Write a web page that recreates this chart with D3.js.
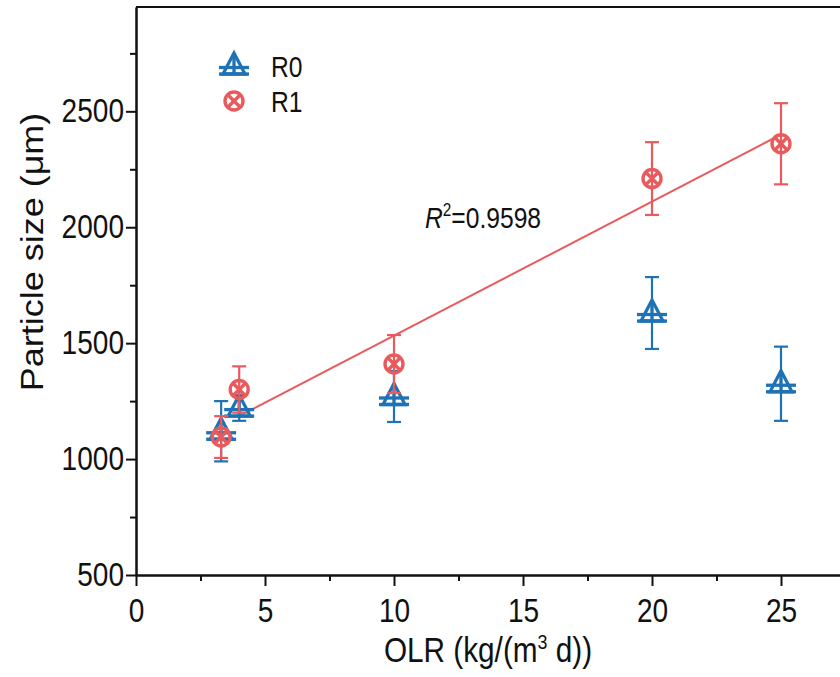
<!DOCTYPE html>
<html>
<head>
<script src="https://cdn.jsdelivr.net/npm/d3@7"></script>
<style type="text/css">
  body { margin: 0; background: #fff; }
  text { font-family: "Liberation Sans", Arial, sans-serif; fill: #111; }
</style>
</head>
<body>
<script>
  // data
  var olr = [3.3, 4, 10, 20, 25];
  var r0 = [1120, 1220, 1270, 1630, 1325];
  var r0Err = [130, 55, 110, 155, 160];
  var r1 = [1095, 1300, 1410, 2210, 2360];
  var r1Err = [90, 100, 125, 157, 175];
  var fitX = [4, 25];
  var fitY = [1185, 2400];
  var xTicks = [0, 5, 10, 15, 20, 25];
  var xMinor = [2.5, 7.5, 12.5, 17.5, 22.5];
  var yTicks = [500, 1000, 1500, 2000, 2500];
  var yMinor = [750, 1250, 1750, 2250, 2750];

  var blue = "#1f72b4", red = "#ea5a5c";
  var sq = 0.85; // text in the figure is squeezed horizontally

  var svg = d3.select("body").append("svg")
    .attr("width", 840)
    .attr("height", 677);

  var x = d3.scaleLinear().domain([0, 28]).range([136, 858.4]);
  var y = d3.scaleLinear().domain([500, 2950]).range([575, 7]);

  // frame top
  svg.append("line").attr("x1", x(0)).attr("x2", 860).attr("y1", y(2950)).attr("y2", y(2950))
    .attr("stroke", "#111").attr("stroke-width", 2);

  svg.append("g").attr("class", "xax").attr("transform", "translate(0," + y(500) + ")")
    .call(d3.axisBottom(x).tickValues(xTicks).tickSize(11).tickPadding(13).tickSizeOuter(0)
      .tickFormat(d3.format("d")));
  svg.append("g").attr("transform", "translate(0," + y(500) + ")")
    .call(d3.axisBottom(x).tickValues(xMinor).tickSize(6).tickFormat("").tickSizeOuter(0));
  svg.append("g").attr("class", "yax").attr("transform", "translate(" + x(0) + ",0)")
    .call(d3.axisLeft(y).tickValues(yTicks).tickSize(10).tickPadding(2).tickSizeOuter(0)
      .tickFormat(d3.format("d")));
  svg.append("g").attr("transform", "translate(" + x(0) + ",0)")
    .call(d3.axisLeft(y).tickValues(yMinor).tickSize(6).tickFormat("").tickSizeOuter(0));

  svg.selectAll(".domain").attr("stroke", "#111").attr("stroke-width", 2);
  svg.selectAll(".tick line").attr("stroke", "#111").attr("stroke-width", 2);
  svg.selectAll(".tick text").attr("font-size", 33).attr("fill", "#111")
    .style("font-family", "'Liberation Sans', Arial, sans-serif")
    .attr("transform", "scale(" + sq + ",1)");
  svg.selectAll(".yax .tick text").attr("x", -12 / sq);

  // fit line
  svg.append("line")
    .attr("x1", x(fitX[0])).attr("y1", y(fitY[0]))
    .attr("x2", x(fitX[1])).attr("y2", y(fitY[1]))
    .attr("stroke", red).attr("stroke-width", 2);

  function errBars(vals, errs, color) {
    var g = svg.append("g").attr("stroke", color).attr("stroke-width", 2.2);
    olr.forEach(function (d, i) {
      var cx = x(d), top = y(vals[i] + errs[i]), bot = y(vals[i] - errs[i]);
      g.append("line").attr("x1", cx).attr("x2", cx).attr("y1", top).attr("y2", bot);
      g.append("line").attr("x1", cx - 7).attr("x2", cx + 7).attr("y1", top).attr("y2", top);
      g.append("line").attr("x1", cx - 7).attr("x2", cx + 7).attr("y1", bot).attr("y2", bot);
    });
  }

  function triMark(g, color) {
    g.attr("fill", "none").attr("stroke", color).attr("stroke-width", 3.3);
    g.append("path").attr("d", "M0,-13L-11,8L11,8Z");
    g.append("line").attr("x1", -15).attr("x2", 15).attr("y1", 1.5).attr("y2", 1.5);
    g.append("line").attr("x1", -15).attr("x2", 15).attr("y1", 8).attr("y2", 8);
    g.append("line").attr("x1", 0).attr("x2", 0).attr("y1", -13).attr("y2", 8);
  }
  function circMark(g, color) {
    g.attr("fill", "none").attr("stroke", color).attr("stroke-width", 3.4);
    g.append("circle").attr("r", 9);
    g.append("line").attr("x1", -6).attr("x2", 6).attr("y1", -6).attr("y2", 6);
    g.append("line").attr("x1", -6).attr("x2", 6).attr("y1", 6).attr("y2", -6);
  }

  errBars(r0, r0Err, blue);
  olr.forEach(function (d, i) {
    triMark(svg.append("g").attr("transform", "translate(" + x(d) + "," + y(r0[i]) + ")"), blue);
  });
  errBars(r1, r1Err, red);
  olr.forEach(function (d, i) {
    circMark(svg.append("g").attr("transform", "translate(" + x(d) + "," + y(r1[i]) + ")"), red);
  });

  function sqText(px, py, size) {
    return svg.append("g").attr("transform", "translate(" + px + "," + py + ") scale(" + sq + ",1)")
      .append("text").attr("font-size", size);
  }

  // legend
  triMark(svg.append("g").attr("transform", "translate(234,66)"), blue);
  circMark(svg.append("g").attr("transform", "translate(234,101)"), red);
  sqText(271, 77, 29).text("R0");
  sqText(271, 112, 29).text("R1");

  // R squared
  var r2 = sqText(425, 228, 29);
  r2.append("tspan").attr("font-style", "italic").text("R");
  r2.append("tspan").attr("font-size", 18).attr("dy", -12).text("2");
  r2.append("tspan").attr("dy", 12).text("=0.9598");

  // axis titles
  var xt = sqText(488, 662, 35).attr("text-anchor", "middle");
  xt.append("tspan").text("OLR (kg/(m");
  xt.append("tspan").attr("font-size", 21).attr("dy", -13).text("3");
  xt.append("tspan").attr("dy", 13).text(" d))");

  svg.append("g").attr("transform", "translate(43,252) rotate(-90) scale(1," + sq + ")")
    .append("text").attr("font-size", 36).attr("text-anchor", "middle").text("Particle size (μm)");
</script>
</body>
</html>
